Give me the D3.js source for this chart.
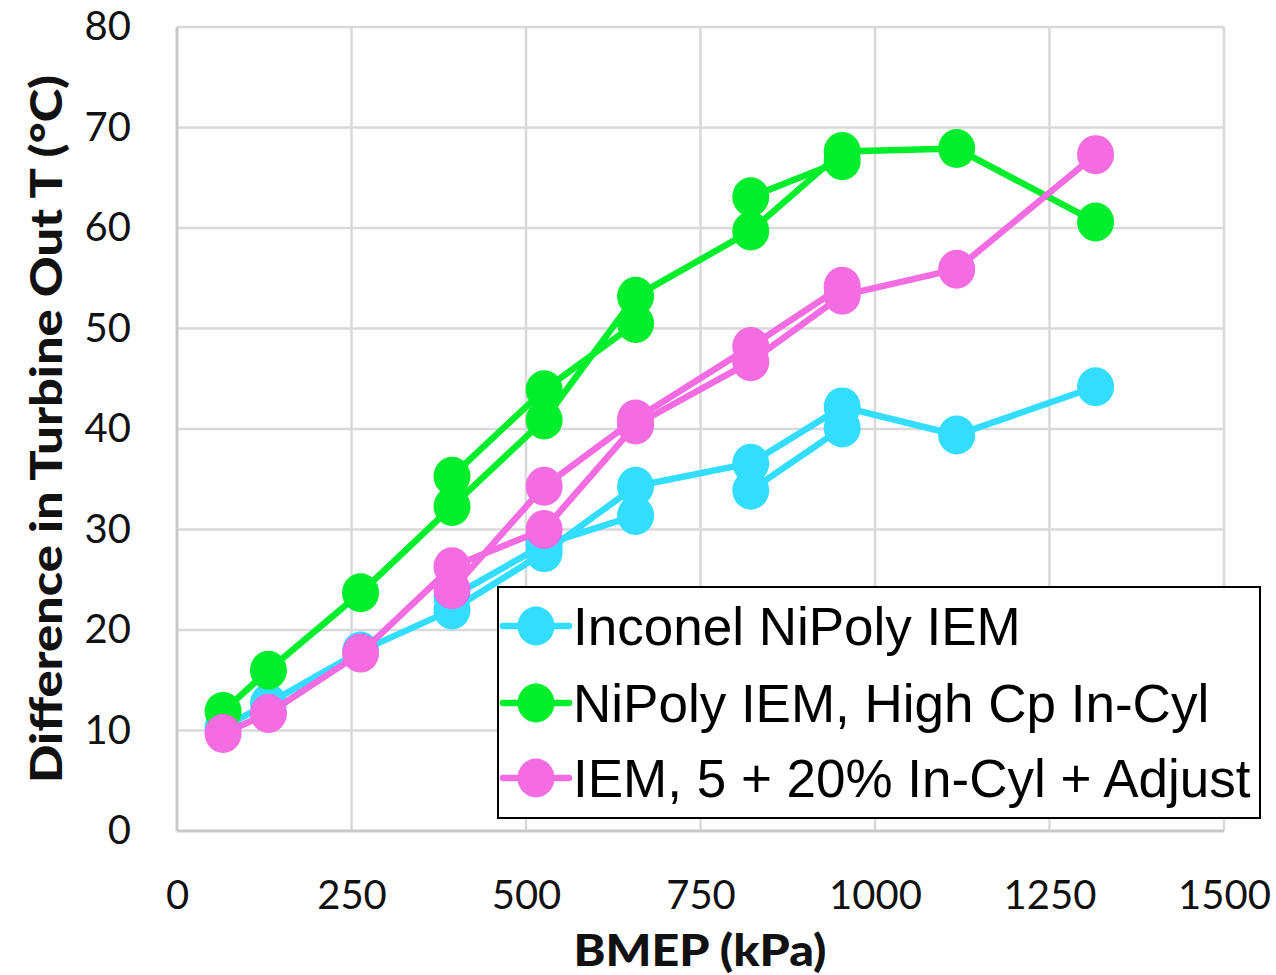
<!DOCTYPE html>
<html>
<head>
<meta charset="utf-8">
<script src="https://cdn.jsdelivr.net/npm/d3@7"></script>
<style>
  html, body { margin: 0; padding: 0; background: #fff; }
  svg { display: block; }
</style>
</head>
<body>
<div id="chart"></div>
<script>
// ---------------- data ----------------
const xTicks = [0, 250, 500, 750, 1000, 1250, 1500];
const yTicks = [0, 10, 20, 30, 40, 50, 60, 70, 80];

const bmep = [66, 131, 263, 394, 526, 657, 822, 953, 1117, 1316];
const inconel = [10.3, 12.7, 17.9, 22.0, 27.7, 34.3, 36.6, 42.2, 39.4, 44.2];
const highCp  = [11.9, 16.0, 23.7, 32.3, 40.9, 53.2, 59.7, 67.6, 67.9, 60.6];
const adjust  = [9.7, 11.7, 17.7, 26.3, 30.0, 40.4, 46.7, 53.3, 55.9, 67.3];

// repeat runs (same colour, no legend entry); null = break in the line
const repeatBmep = [394, 526, 657, null, 822, 953];
const inconelRepeat = [23.3, 28.5, 31.4, null, 33.9, 40.1];
const highCpRepeat  = [35.3, 43.9, 50.5, null, 63.1, 66.7];
const adjustRepeatBmep = [394, 526, 657, 822, 953];
const adjustRepeat  = [24.0, 34.3, 41.0, 48.2, 54.2];

const seriesNames = ["Inconel NiPoly IEM", "NiPoly IEM, High Cp In-Cyl", "IEM, 5 + 20% In-Cyl + Adjust"];
const seriesColors = ["#33DDFF", "#00EE2C", "#F36CE2"];

// ---------------- layout ----------------
const W = 1276, H = 975;
const svg = d3.select("#chart").append("svg").attr("width", W).attr("height", H);

const x = d3.scaleLinear().domain([0, 1500]).range([177, 1224]);
const y = d3.scaleLinear().domain([0, 80]).range([831, 27]);

// grid
const grid = svg.append("g");
grid.selectAll("line.v").data(xTicks.slice(1)).join("line")
  .attr("x1", d => x(d)).attr("x2", d => x(d)).attr("y1", y(0)).attr("y2", y(80))
  .attr("stroke", "#D9D9D9").attr("stroke-width", 2.5);
grid.selectAll("line.h").data(yTicks.slice(1)).join("line")
  .attr("x1", x(0)).attr("x2", x(1500)).attr("y1", d => y(d)).attr("y2", d => y(d))
  .attr("stroke", "#D9D9D9").attr("stroke-width", 2.5);
// axis lines
svg.append("line").attr("x1", x(0)).attr("x2", x(0)).attr("y1", y(0)).attr("y2", y(80))
  .attr("stroke", "#C8C8C8").attr("stroke-width", 3);
svg.append("line").attr("x1", x(0)).attr("x2", x(1500)).attr("y1", y(0)).attr("y2", y(0))
  .attr("stroke", "#C8C8C8").attr("stroke-width", 3);

// axes (labels only)
const yAxis = svg.append("g").attr("transform", `translate(${x(0)},0)`)
  .call(d3.axisLeft(y).tickValues(yTicks).tickSize(0).tickPadding(46).tickFormat(d3.format("d")));
const xAxis = svg.append("g").attr("transform", `translate(0,${y(0)})`)
  .call(d3.axisBottom(x).tickValues(xTicks).tickSize(0).tickPadding(50).tickFormat(d3.format("d")));
[yAxis, xAxis].forEach(a => {
  a.select(".domain").remove();
  a.selectAll("text").attr("font-family", "Lato, 'DejaVu Sans', sans-serif")
    .attr("font-size", 40).attr("fill", "#111");
});

// axis titles
svg.append("text")
  .attr("transform", `translate(62,${429}) rotate(-90)`)
  .attr("text-anchor", "middle")
  .attr("font-family", "Lato, 'DejaVu Sans', sans-serif").attr("font-weight", 900)
  .attr("font-size", 44).attr("fill", "#111")
  .attr("textLength", 708).attr("lengthAdjust", "spacingAndGlyphs")
  .text("Difference in Turbine Out T (°C)");
svg.append("text")
  .attr("x", 700).attr("y", 966).attr("text-anchor", "middle")
  .attr("font-family", "Lato, 'DejaVu Sans', sans-serif").attr("font-weight", 900)
  .attr("font-size", 44).attr("fill", "#111")
  .attr("textLength", 253).attr("lengthAdjust", "spacingAndGlyphs")
  .text("BMEP (kPa)");

// series
const RX = 18.5, RY = 19.5, LW = 6.5;
function drawSeries(xs, ys, color) {
  const pts = xs.map((v, i) => ({ x: v, y: ys[i] }));
  const line = d3.line().defined(d => d.x != null && d.y != null)
    .x(d => x(d.x)).y(d => y(d.y));
  svg.append("path").datum(pts).attr("d", line)
    .attr("fill", "none").attr("stroke", color).attr("stroke-width", LW)
    .attr("stroke-linejoin", "round").attr("stroke-linecap", "round");
  svg.append("g").selectAll("ellipse").data(pts.filter(d => d.x != null && d.y != null)).join("ellipse")
    .attr("cx", d => x(d.x)).attr("cy", d => y(d.y)).attr("rx", RX).attr("ry", RY)
    .attr("fill", color);
}
drawSeries(bmep, inconel, seriesColors[0]);
drawSeries(repeatBmep, inconelRepeat, seriesColors[0]);
drawSeries(bmep, highCp, seriesColors[1]);
drawSeries(repeatBmep, highCpRepeat, seriesColors[1]);
drawSeries(bmep, adjust, seriesColors[2]);
drawSeries(adjustRepeatBmep, adjustRepeat, seriesColors[2]);

// legend
const lg = svg.append("g");
lg.append("rect").attr("x", 498).attr("y", 587).attr("width", 762).attr("height", 231)
  .attr("fill", "#fff").attr("stroke", "#000").attr("stroke-width", 2);
const rowY = [626, 703, 778];
seriesNames.forEach((name, i) => {
  const g = lg.append("g").attr("transform", `translate(0,${rowY[i]})`);
  g.append("line").attr("x1", 503).attr("x2", 569).attr("y1", 0).attr("y2", 0)
    .attr("stroke", seriesColors[i]).attr("stroke-width", LW).attr("stroke-linecap", "round");
  g.append("ellipse").attr("cx", 536).attr("cy", 0).attr("rx", RX).attr("ry", RY)
    .attr("fill", seriesColors[i]);
  g.append("text").attr("x", 573).attr("y", 19)
    .attr("font-family", "'Liberation Sans', Arial, sans-serif").attr("font-size", 53)
    .attr("fill", "#000").text(name);
});
</script>
</body>
</html>
